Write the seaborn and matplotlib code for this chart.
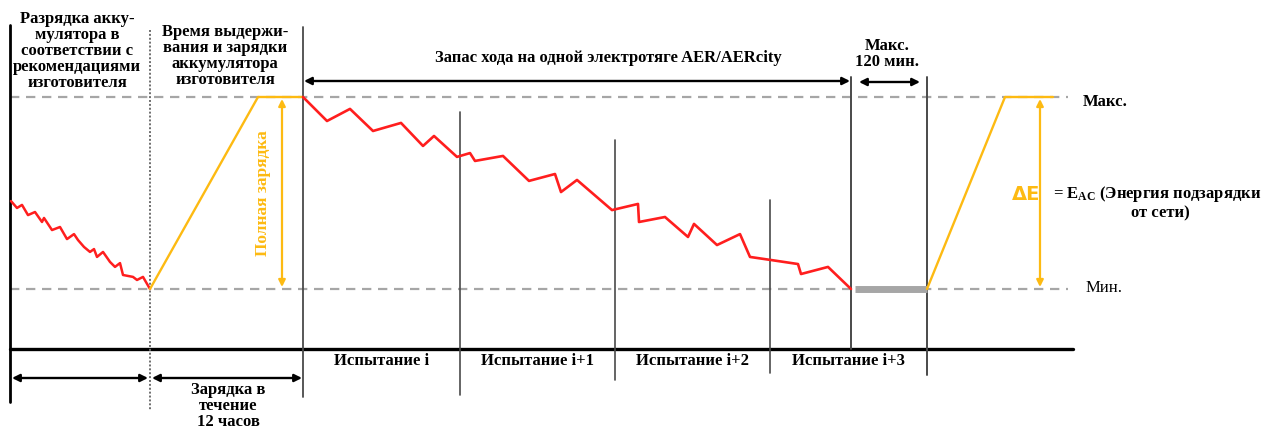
import matplotlib
matplotlib.use("Agg")
import matplotlib.pyplot as plt
import seaborn as sns
import numpy as np

# ---- time axis (schematic time units) and battery level (% between Min and Max) ----
discharge_t = [11, 17, 22, 28, 35, 42, 44, 52, 60, 67, 74, 78, 84, 90, 94, 97, 103,
               108, 110, 115, 120, 123, 133, 137, 143, 150]
discharge_soc = [45.8, 42.2, 43.8, 38.5, 40.1, 34.9, 37.0, 30.7, 32.3, 26.0, 28.6, 25.5,
                 21.9, 19.3, 20.8, 16.7, 19.3, 15.6, 14.1, 11.5, 13.5, 7.3, 6.3, 4.7, 6.3, 0.0]

charge_t = [150, 258, 303]
charge_soc = [0, 100, 100]

range_t = [303, 327, 350, 373, 401, 423, 434, 457, 470, 475, 503, 529, 555, 561, 577,
           612, 638, 639, 665, 688, 694, 717, 740, 750, 771, 798, 801, 828, 851]
range_soc = [100, 87.5, 93.8, 82.3, 86.5, 74.5, 79.7, 68.8, 70.8, 66.7, 69.3, 56.3, 59.9,
             50.5, 56.8, 41.1, 44.3, 34.9, 37.5, 27.1, 33.9, 22.9, 28.6, 16.7, 15.1, 13.0,
             7.8, 11.5, 0.0]

soak_t = [855, 927]
soak_soc = [0, 0]

recharge_t = [927, 1005, 1053]
recharge_soc = [0, 100, 100]

test_edges = [303, 460, 615, 770, 927]
test_labels = ["Испытание i", "Испытание i+1", "Испытание i+2", "Испытание i+3"]

RED = "#FF1E1E"
ORANGE = "#FDBA12"
GRAY = "#A6A6A6"
DARK = "#4A4A4A"

sns.set_theme(style="white")
plt.rcParams["font.family"] = ["Liberation Serif", "DejaVu Serif"]
plt.rcParams["mathtext.fontset"] = "custom"
plt.rcParams["mathtext.rm"] = "Liberation Serif:bold"
plt.rcParams["mathtext.bf"] = "Liberation Serif:bold"
plt.rcParams["mathtext.it"] = "Liberation Serif:bold"

W, H = 1280, 429
fig = plt.figure(figsize=(W / 100, H / 100), dpi=100)
ax = fig.add_axes([0, 0, 1, 1])

# level 0 (Min) and 100 (Max) sit at these heights of the canvas
Y_MIN, Y_MAX = 289.0, 97.0
SCALE = (Y_MIN - Y_MAX) / 100.0


def lv(y):
    """Convert a vertical canvas position (top-down) to battery-level units."""
    return (Y_MIN - y) / SCALE


ax.set_xlim(0, W)
ax.set_ylim(lv(H), lv(0))
ax.axis("off")

# reference levels
for lvl in (0, 100):
    ax.plot([10, 1068], [lvl, lvl], color=GRAY, lw=1.6, dashes=(4.2, 3.0), zorder=1)

# frame: left edge, time baseline, phase separators
ax.plot([10, 10], [lv(25), lv(402)], color="black", lw=2.0, zorder=3)
ax.plot([10, 1073], [lv(349), lv(349)], color="black", lw=2.4, zorder=3)
ax.plot([150, 150], [lv(30), lv(410)], color="#6E6E6E", lw=1.4, ls=(0, (1, 1)), zorder=3)
ax.plot([303, 303], [lv(27), lv(397)], color=DARK, lw=1.3, zorder=3)
sep_tops = {460: 112, 615: 140, 770: 200}
sep_bottoms = {460: 395, 615: 380, 770: 373}
for x in (460, 615, 770):
    ax.plot([x, x], [lv(sep_tops[x]), lv(sep_bottoms[x])], color=DARK, lw=1.2, zorder=3)
ax.plot([851, 851], [lv(77), lv(349)], color=DARK, lw=1.4, zorder=3)
ax.plot([927, 927], [lv(77), lv(375)], color=DARK, lw=1.4, zorder=3)

# battery level traces
sns.lineplot(x=discharge_t, y=discharge_soc, sort=False, estimator=None, color=RED, lw=1.8, ax=ax, zorder=4)
sns.lineplot(x=charge_t, y=charge_soc, sort=False, estimator=None, color=ORANGE, lw=1.7, ax=ax, zorder=4)
sns.lineplot(x=range_t, y=range_soc, sort=False, estimator=None, color=RED, lw=1.9, ax=ax, zorder=4)
sns.lineplot(x=soak_t, y=soak_soc, sort=False, estimator=None, color=GRAY, lw=5.0, ax=ax, zorder=4,
             solid_capstyle="butt")
sns.lineplot(x=recharge_t, y=recharge_soc, sort=False, estimator=None, color=ORANGE, lw=1.7, ax=ax, zorder=4)


def double_arrow(x0, y0, x1, y1, color, lw, ms):
    ax.annotate("", xy=(x1, y1), xytext=(x0, y0),
                arrowprops=dict(arrowstyle="<|-|>", color=color, lw=lw, mutation_scale=ms,
                                shrinkA=0, shrinkB=0), zorder=5)


# span arrows
double_arrow(304, lv(81), 850, lv(81), "black", 1.7, 11)
double_arrow(859, lv(82), 920, lv(82), "black", 1.7, 11)
double_arrow(12, lv(378), 148, lv(378), "black", 1.7, 11)
double_arrow(152, lv(378), 302, lv(378), "black", 1.7, 11)

# energy arrows
double_arrow(282, lv(99), 282, lv(287), ORANGE, 1.6, 10)
double_arrow(1040, lv(99), 1040, lv(287), ORANGE, 1.6, 10)

bold = dict(fontweight="bold", fontsize=12, color="black", linespacing=0.98)

ax.text(77, lv(51), "Разрядка акку-\nмулятора в\nсоответствии с\nрекомендациями\nизготовителя",
        ha="center", va="center", **bold)
ax.text(225, lv(56), "Время выдержи-\nвания и зарядки\nаккумулятора\nизготовителя",
        ha="center", va="center", **bold)
ax.text(608, lv(58), "Запас хода на одной электротяге AER/AERcity",
        ha="center", va="center", **bold)
ax.text(887, lv(54), "Макс.\n120 мин.", ha="center", va="center", **bold)
ax.text(228, lv(406), "Зарядка в\nтечение\n12 часов", ha="center", va="center", **bold)

for (a, b), label in zip(zip(test_edges[:-1], test_edges[1:]), test_labels):
    ax.text((a + b) / 2, lv(361), label, ha="center", va="center", **bold)

ax.text(1083, lv(102), "Макс.", ha="left", va="center", **bold)
ax.text(1086, lv(288), "Мин.", ha="left", va="center", fontsize=12, color="black")

ax.text(263, 50, "Полная зарядка", rotation=90, ha="center", va="center",
        fontweight="bold", fontsize=12.5, color=ORANGE)
ax.text(1026, lv(194), "ΔE", ha="center", va="center", fontsize=14, fontweight="bold",
        color=ORANGE, family=["DejaVu Sans"])
ax.text(1053, lv(194), "= E$_{\\mathrm{AC}}$ (Энергия подзарядки", ha="left", va="center", **bold)
ax.text(1160, lv(213), "от сети)", ha="center", va="center", **bold)

fig.savefig("out.png", dpi=100, facecolor="white")
